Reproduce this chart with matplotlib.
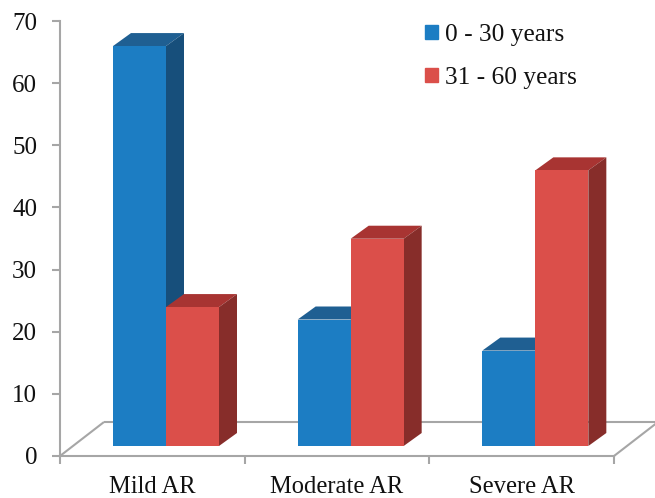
import matplotlib
matplotlib.use("Agg")
import matplotlib.pyplot as plt
from matplotlib.patches import Polygon, Patch

categories = ["Mild AR", "Moderate AR", "Severe AR"]
series_names = ["0 - 30 years", "31 - 60 years"]
young = [65, 21, 16]
older = [23, 34, 45]
yticks = [0, 10, 20, 30, 40, 50, 60, 70]

W, H = 655, 498
PX_X = (614 - 60) / 3      # pixels per category
PX_Y = (456 - 21) / 70     # pixels per unit
bar_w = 53 / PX_X
dx = 18 / PX_X
dy = 13 / PX_Y
base = 10 / PX_Y           # front of the 3D floor gap
top_lift = 6 / PX_Y
floor_dx = 44 / PX_X
floor_dy = 34 / PX_Y

BLUE = ("#1C7DC3", "#1F5F92", "#174F7B")
RED = ("#DB4F4A", "#A83432", "#872D2A")
GRAY = "#A6A6A6"

plt.rcParams["font.family"] = ["Liberation Serif", "DejaVu Serif"]
fig = plt.figure(figsize=(W / 100, H / 100), dpi=100)
ax = fig.add_axes([60 / W, 1 - 456 / H, (614 - 60) / W, (456 - 21) / H])
ax.set_xlim(0, 3)
ax.set_ylim(0, 70)
ax.patch.set_visible(False)

for s in ("top", "right"):
    ax.spines[s].set_visible(False)
for s in ("left", "bottom"):
    ax.spines[s].set_color(GRAY)
    ax.spines[s].set_linewidth(1.5)

ax.set_yticks(yticks)
ax.set_xticks([0, 1, 2, 3])
ax.set_xticklabels([])
ax.tick_params(axis="both", length=6, width=1.5, color=GRAY)
ax.tick_params(axis="y", labelsize=18, pad=10.5, labelcolor="#111111")
for i, c in enumerate(categories):
    ax.text(i + 0.5, -5.0, c, ha="center", va="center", fontsize=17.7,
            color="#111111", clip_on=False)

# floor of the 3D plot
lk = dict(color=GRAY, lw=1.5, clip_on=False, zorder=1, solid_capstyle="butt")
ax.plot([0, floor_dx], [0, floor_dy], **lk)
ax.plot([floor_dx, 3 + floor_dx], [floor_dy, floor_dy], **lk)
ax.plot([3, 3 + floor_dx], [0, floor_dy], **lk)


def draw_box(x0, value, cols, z):
    front, top, side = cols
    t = value + top_lift
    x1 = x0 + bar_w
    ax.bar(x0, t - base, width=bar_w, bottom=base, align="edge", color=front,
           zorder=z + 0.2, clip_on=False, linewidth=0)
    ax.add_patch(Polygon([(x0, t), (x1, t), (x1 + dx, t + dy), (x0 + dx, t + dy)],
                         closed=True, fc=top, ec="none", zorder=z, clip_on=False))
    ax.add_patch(Polygon([(x1, base), (x1 + dx, base + dy), (x1 + dx, t + dy), (x1, t)],
                         closed=True, fc=side, ec="none", zorder=z, clip_on=False))


for i in range(len(categories)):
    x_start = i + (113 - 60) / PX_X
    draw_box(x_start, young[i], BLUE, 2)
    draw_box(x_start + bar_w, older[i], RED, 3)

handles = [Patch(color=BLUE[0]), Patch(color=RED[0])]
leg = fig.legend(handles, series_names, loc="upper left",
                 bbox_to_anchor=(425 / W, 1 - 24 / H), bbox_transform=fig.transFigure,
                 frameon=False, fontsize=18.3, handlelength=0.52, handleheight=0.52,
                 handletextpad=0.28, labelspacing=0.83, borderpad=0, borderaxespad=0)
for t in leg.get_texts():
    t.set_color("#111111")

fig.savefig("out.png", dpi=100)
